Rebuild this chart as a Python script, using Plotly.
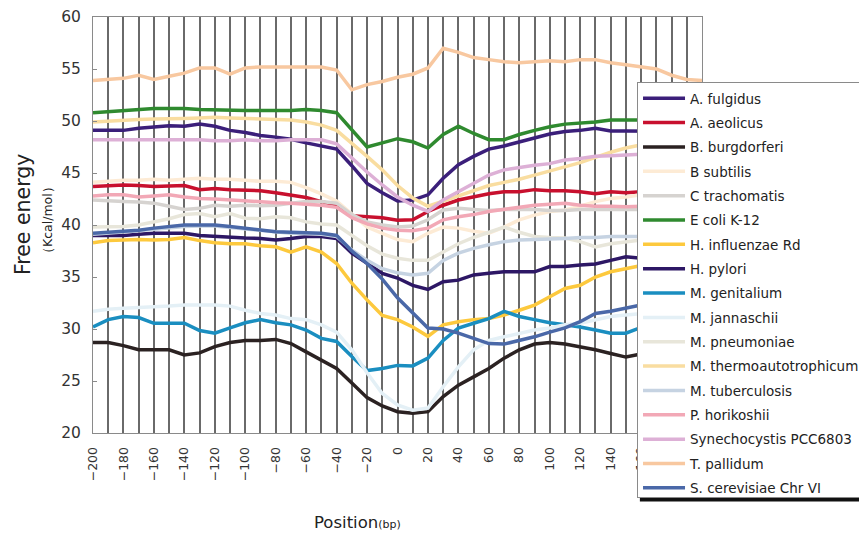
import plotly.graph_objects as go

positions = list(range(-200, 201, 10))

series_names = [
    "A. fulgidus", "A. aeolicus", "B. burgdorferi", "B subtilis", "C trachomatis",
    "E coli K-12", "H. influenzae Rd", "H. pylori", "M. genitalium", "M. jannaschii",
    "M. pneumoniae", "M. thermoautotrophicum", "M. tuberculosis", "P. horikoshii",
    "Synechocystis PCC6803", "T. pallidum", "S. cerevisiae Chr VI",
]

series_colors = [
    "#3B1F7A", "#C8102E", "#2B2222", "#FDEBD5", "#D6D3D0",
    "#2F8A2F", "#FDC93D", "#2D1765", "#1A8EC0", "#E4F0F6",
    "#E8E6DA", "#F9DDA0", "#C6D3E2", "#F2A8B6",
    "#DDB0D6", "#F8C8A0", "#4A68A8",
]

a_fulgidus = [49.1, 49.1, 49.1, 49.3, 49.45, 49.55, 49.5, 49.7, 49.5, 49.1, 48.9, 48.6, 48.45, 48.25,
              47.9, 47.6, 47.3, 45.7, 44.0, 43.1, 42.3, 42.4, 42.9, 44.5, 45.8, 46.6, 47.3, 47.6, 48.0,
              48.4, 48.75, 49.0, 49.1, 49.3, 49.05, 49.05, 49.05, 49.0, 49.0, 49.0, 49.0]
a_aeolicus = [43.7, 43.8, 43.85, 43.8, 43.7, 43.75, 43.8, 43.4, 43.5, 43.4, 43.35, 43.3, 43.1, 42.9,
              42.65, 42.25, 41.9, 40.9, 40.8, 40.7, 40.45, 40.5, 41.3, 41.9, 42.4, 42.7, 43.0, 43.2, 43.2,
              43.4, 43.3, 43.3, 43.2, 43.0, 43.2, 43.1, 43.2, 43.2, 43.2, 43.2, 43.2]
b_burgdorferi = [28.7, 28.7, 28.4, 28.0, 28.0, 28.0, 27.5, 27.7, 28.3, 28.7, 28.9, 28.9, 29.0, 28.6,
                 27.8, 27.0, 26.2, 24.8, 23.4, 22.6, 22.05, 21.9, 22.05, 23.5, 24.6, 25.4, 26.2, 27.2,
                 28.0, 28.55, 28.7, 28.55, 28.3, 28.0, 27.65, 27.3, 27.6, 27.8, 27.9, 28.0, 28.0]
b_subtilis = [44.1, 44.2, 44.3, 44.3, 44.4, 44.3, 44.4, 44.5, 44.4, 44.4, 44.3, 44.2, 44.2, 44.1,
              43.6, 43.0, 42.3, 41.0, 39.8, 39.2, 38.6, 38.4, 39.2, 39.8, 39.7, 39.4, 39.2, 39.8, 40.5,
              40.95, 41.3, 41.45, 41.8, 42.25, 42.55, 42.7, 42.9, 43.0, 43.1, 43.1, 43.2]
c_trachomatis = [42.4, 42.3, 42.25, 42.2, 42.1, 41.8, 41.5, 41.6, 41.9, 41.8, 41.9, 41.85, 41.9, 42.1,
                 42.25, 42.25, 42.1, 41.0, 40.3, 40.0, 39.8, 39.9, 40.5, 41.45, 41.6, 41.5, 41.4, 41.5,
                 41.5, 41.5, 41.4, 41.4, 41.5, 41.5, 41.5, 41.5, 41.5, 41.5, 41.5, 41.5, 41.5]
e_coli = [50.8, 50.9, 51.0, 51.1, 51.2, 51.2, 51.2, 51.1, 51.05, 51.0, 51.0, 51.0, 51.0, 51.0,
          51.1, 51.0, 50.8, 49.2, 47.5, 47.9, 48.3, 48.0, 47.4, 48.7, 49.5, 48.8, 48.2, 48.2, 48.7,
          49.1, 49.45, 49.7, 49.8, 49.9, 50.1, 50.1, 50.1, 50.1, 50.1, 50.0, 50.0]
h_influenzae = [38.3, 38.5, 38.55, 38.6, 38.55, 38.6, 38.8, 38.5, 38.3, 38.2, 38.2, 38.0, 37.9, 37.4,
                37.9, 37.4, 36.3, 34.4, 32.8, 31.3, 30.9, 30.2, 29.3, 30.4, 30.7, 30.9, 31.0, 31.35,
                31.8, 32.3, 33.1, 33.9, 34.2, 35.0, 35.5, 35.8, 36.15, 36.4, 36.6, 36.8, 36.9]
h_pylori = [39.0, 39.0, 39.0, 39.1, 39.2, 39.2, 39.2, 39.0, 38.9, 38.8, 38.75, 38.7, 38.55, 38.7,
            38.9, 38.9, 38.7, 37.3, 36.3, 35.35, 34.9, 34.2, 33.8, 34.55, 34.7, 35.2, 35.35, 35.5,
            35.5, 35.5, 36.0, 36.0, 36.15, 36.25, 36.6, 36.95, 36.8, 36.8, 36.8, 36.8, 36.8]
m_genitalium = [30.2, 30.9, 31.2, 31.1, 30.55, 30.55, 30.55, 29.85, 29.6, 30.1, 30.6, 30.9, 30.6, 30.4,
                29.9, 29.1, 28.8, 27.35, 26.0, 26.2, 26.5, 26.45, 27.2, 28.9, 30.1, 30.55, 31.0, 31.7,
                31.2, 30.9, 30.6, 30.4, 30.2, 29.9, 29.6, 29.6, 30.15, 30.3, 30.4, 30.4, 30.4]
m_jannaschii = [31.7, 31.9, 32.0, 32.1, 32.15, 32.2, 32.3, 32.3, 32.3, 32.2, 31.8, 31.5, 31.35, 31.0,
                30.9, 30.4, 29.7, 28.0, 25.8, 23.8, 22.7, 22.2, 22.4, 24.45, 26.35, 28.0, 28.9, 29.25,
                29.6, 29.9, 30.1, 30.4, 30.55, 30.9, 31.2, 31.35, 31.5, 31.6, 31.7, 31.7, 31.7]
m_pneumoniae = [39.8, 39.8, 39.85, 40.0, 40.3, 40.6, 41.0, 41.1, 40.8, 41.1, 40.65, 40.6, 40.8, 40.7,
                40.3, 40.1, 40.0, 39.0, 38.0, 37.2, 36.8, 36.6, 36.6, 37.4, 38.2, 38.8, 39.3, 39.8,
                39.3, 38.9, 38.8, 38.75, 38.4, 37.9, 38.2, 38.4, 38.55, 38.6, 38.6, 38.6, 38.6]
m_thermo = [49.9, 50.0, 50.1, 50.15, 50.2, 50.2, 50.25, 50.3, 50.35, 50.3, 50.25, 50.2, 50.2, 50.1,
            49.9, 49.6, 49.1, 47.9, 46.6, 45.3, 43.8, 42.6, 41.8, 42.3, 42.8, 43.3, 43.8, 44.1, 44.4,
            44.8, 45.2, 45.6, 46.0, 46.5, 47.0, 47.4, 47.7, 48.0, 48.2, 48.4, 48.5]
m_tuberculosis = [39.1, 39.2, 39.3, 39.45, 39.6, 39.75, 39.85, 39.9, 39.9, 39.75, 39.6, 39.45, 39.3, 39.2,
                  39.15, 39.1, 38.9, 37.6, 36.6, 35.8, 35.4, 35.2, 35.35, 36.6, 37.3, 37.75, 38.1, 38.4,
                  38.55, 38.6, 38.6, 38.7, 38.8, 38.8, 38.9, 38.9, 38.9, 38.9, 38.9, 38.9, 38.9]
p_horikoshii = [42.8, 42.9, 42.9, 42.7, 42.8, 42.9, 42.7, 42.55, 42.5, 42.4, 42.3, 42.2, 42.15, 42.1,
                42.0, 41.9, 41.7, 40.7, 40.1, 39.7, 39.5, 39.45, 39.7, 40.5, 40.8, 41.0, 41.3, 41.5,
                41.75, 41.9, 42.0, 42.1, 41.9, 41.8, 41.8, 41.75, 41.8, 41.8, 41.8, 41.8, 41.8]
synechocystis = [48.2, 48.2, 48.25, 48.2, 48.2, 48.2, 48.25, 48.2, 48.1, 48.1, 48.2, 48.1, 48.1, 48.2,
                 48.2, 48.2, 47.8, 46.4, 45.1, 43.85, 42.7, 41.9, 41.3, 42.4, 43.2, 44.0, 44.8, 45.3,
                 45.55, 45.75, 45.9, 46.25, 46.4, 46.6, 46.65, 46.7, 46.8, 46.9, 47.0, 47.0, 47.0]
t_pallidum = [53.9, 54.0, 54.1, 54.4, 54.0, 54.3, 54.6, 55.1, 55.1, 54.5, 55.1, 55.2, 55.2, 55.2,
              55.2, 55.2, 54.9, 53.0, 53.5, 53.8, 54.2, 54.5, 55.1, 57.0, 56.6, 56.1, 55.9, 55.7,
              55.6, 55.7, 55.8, 55.7, 55.9, 55.9, 55.6, 55.4, 55.2, 55.0, 54.4, 54.0, 53.9]
s_cerevisiae = [39.2, 39.3, 39.35, 39.5, 39.7, 39.85, 40.0, 40.0, 40.0, 39.85, 39.7, 39.55, 39.35, 39.3,
                39.25, 39.2, 39.0, 37.5, 36.3, 34.8, 33.0, 31.5, 30.1, 30.0, 29.6, 29.1, 28.6, 28.55,
                28.9, 29.25, 29.7, 30.1, 30.7, 31.5, 31.7, 32.0, 32.3, 32.5, 32.6, 32.7, 32.8]

series_values = [
    a_fulgidus, a_aeolicus, b_burgdorferi, b_subtilis, c_trachomatis,
    e_coli, h_influenzae, h_pylori, m_genitalium, m_jannaschii,
    m_pneumoniae, m_thermo, m_tuberculosis, p_horikoshii,
    synechocystis, t_pallidum, s_cerevisiae,
]

x_tick_values = list(range(-200, 201, 20))
y_ticks = [20, 25, 30, 35, 40, 45, 50, 55, 60]

FONT = "DejaVu Sans"

fig = go.Figure()
for name, color, vals in zip(series_names, series_colors, series_values):
    fig.add_trace(go.Scatter(
        x=positions, y=vals, mode="lines", name=name, legendgroup=name,
        line=dict(color=color, width=3.5),
    ))

fig.update_layout(
    width=859, height=525,
    margin=dict(l=85, r=165, t=9, b=100, autoexpand=False),
    paper_bgcolor="white", plot_bgcolor="white",
    font=dict(family=FONT, color="#333333"),
    showlegend=True,
    legend=dict(
        x=0.8933, y=0.8438, xanchor="left", yanchor="top",
        bgcolor="white", bordercolor="#8a8a8a", borderwidth=1,
        font=dict(size=13.5, color="#222222", family=FONT),
        tracegroupgap=3.8, itemwidth=42,
    ),
    shapes=[
        dict(type="rect", xref="paper", yref="paper", x0=0.898, x1=1.5,
             y0=-0.1647, y1=-0.155, fillcolor="#111111", line=dict(width=0), layer="below"),
    ],
    annotations=[
        dict(text="Free energy", xref="paper", yref="paper", x=-0.1149, y=0.524,
             xanchor="center", yanchor="middle",
             showarrow=False, textangle=-90, font=dict(size=20.5, color="#222222", family=FONT)),
        dict(text="（Kcal/mol）", xref="paper", yref="paper", x=-0.0755, y=0.512,
             xanchor="center", yanchor="middle",
             showarrow=False, textangle=-90, font=dict(size=12.5, color="#222222", family=FONT)),
        dict(text="Position<span style='font-size:11px'>(bp)</span>", xref="paper", yref="paper",
             x=0.4335, y=-0.2163, xanchor="center", yanchor="middle",
             showarrow=False, font=dict(size=16.5, color="#222222", family=FONT)),
    ],
)

fig.update_xaxes(
    range=[-200, 200], tickmode="array", tickvals=x_tick_values,
    tickangle=-90, tickfont=dict(size=12.5, color="#333333"),
    ticklabelstandoff=8,
    showgrid=True, gridcolor="#6a6a6a", gridwidth=1.5,
    minor=dict(dtick=10, showgrid=True, gridcolor="#6a6a6a", gridwidth=1.5),
    showline=True, linecolor="#8a8a8a", linewidth=1, mirror=True,
    ticks="", zeroline=False,
)
fig.update_yaxes(
    range=[20, 60], tickvals=y_ticks,
    tickfont=dict(size=15.5, color="#333333"),
    showgrid=False, zeroline=False,
    showline=True, linecolor="#8a8a8a", linewidth=1, mirror=True,
    ticks="inside", ticklen=4, tickcolor="#8a8a8a",
    ticklabelstandoff=8,
)

fig.write_html("out.html")
